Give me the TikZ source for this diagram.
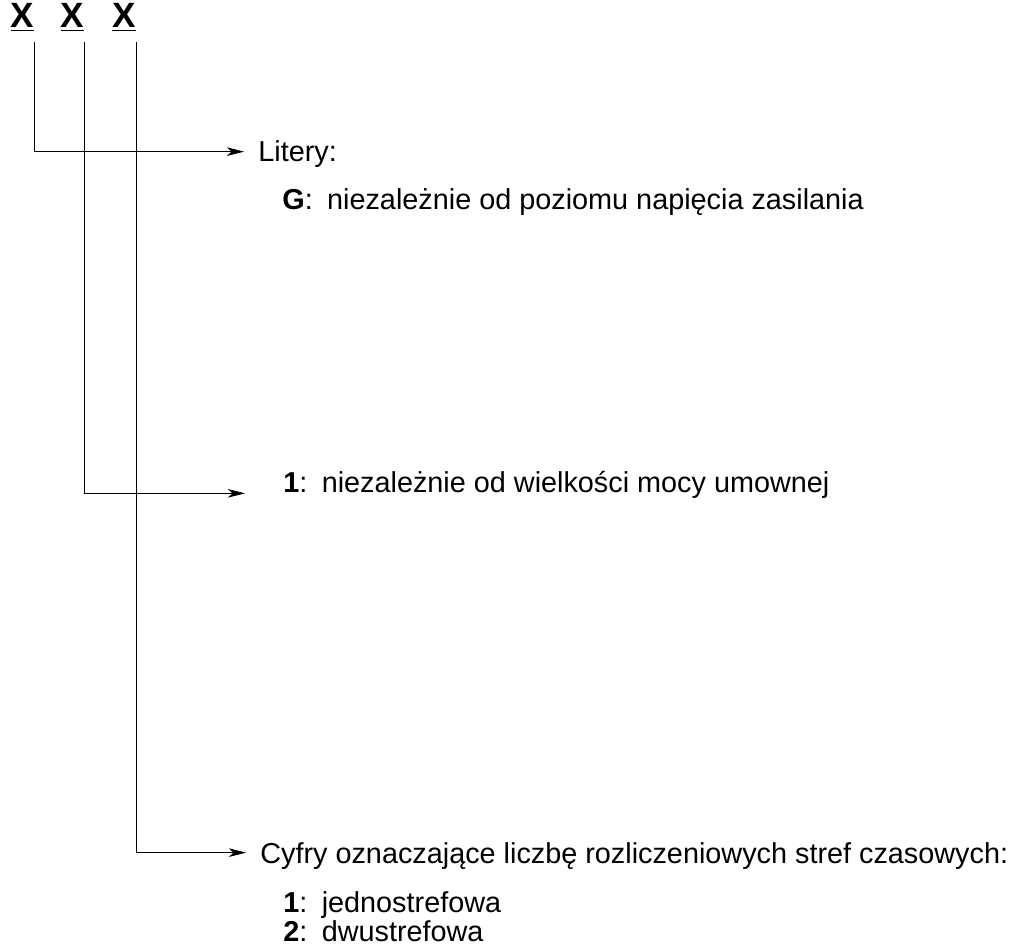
\documentclass[tikz,border=0pt]{standalone}
\usepackage{fontspec}
\setmainfont{Liberation Sans}
\usetikzlibrary{arrows.meta}
\tikzset{
line width=1.3pt, % All lines a bit heavier
>={Stealth[length=3.4mm,width=1.7mm,inset=0.9mm]},
my font/.style={font=\fontsize{16.4}{29}\selectfont},
my letter/.style={font=\fontsize{20}{29}\selectfont\bfseries,inner sep=0pt,anchor=base},
my text/.style={my font,inner sep=0pt,text height=11.8pt,text depth=0pt,anchor=base west},
my head/.style={my text,inner xsep=0.28cm},
}
\newcommand{\code}[1]{\textbf{#1}:\hspace{0.5em}}

\begin{document}
\begin{tikzpicture}[x=0.02cm,y=-0.02cm]
\useasboundingbox (0,0) rectangle (1015,949);
\node[my letter] (x1) at (22.5,28) {\underline{X}};
\node[my letter] (x2) at (72.5,28) {\underline{X}};
\node[my letter] (x3) at (124,28)  {\underline{X}};
\node[my head] (litery) at (244,162) {Litery:};
\node[my text] (g)      at (282,210) {\code{G}niezależnie od poziomu napięcia zasilania};
\node[my text] (moc)    at (283,493) {\code{1}niezależnie od wielkości mocy umownej};
\node[my head] (cyfry)  at (246,863) {Cyfry oznaczające liczbę rozliczeniowych stref czasowych:};
\node[my text] (s1)     at (283,912) {\code{1}jednostrefowa};
\node[my text] (s2)     at (283,941) {\code{2}dwustrefowa};
\draw[->] (x1.south east) ++(0,10) |- (litery.west);
\draw[->] (x2.south east) ++(0,10) |- ([shift={(-38,0)}]moc.south west);
\draw[->] (x3.south east) ++(0,10) |- (cyfry.west);
\end{tikzpicture}
\end{document}
